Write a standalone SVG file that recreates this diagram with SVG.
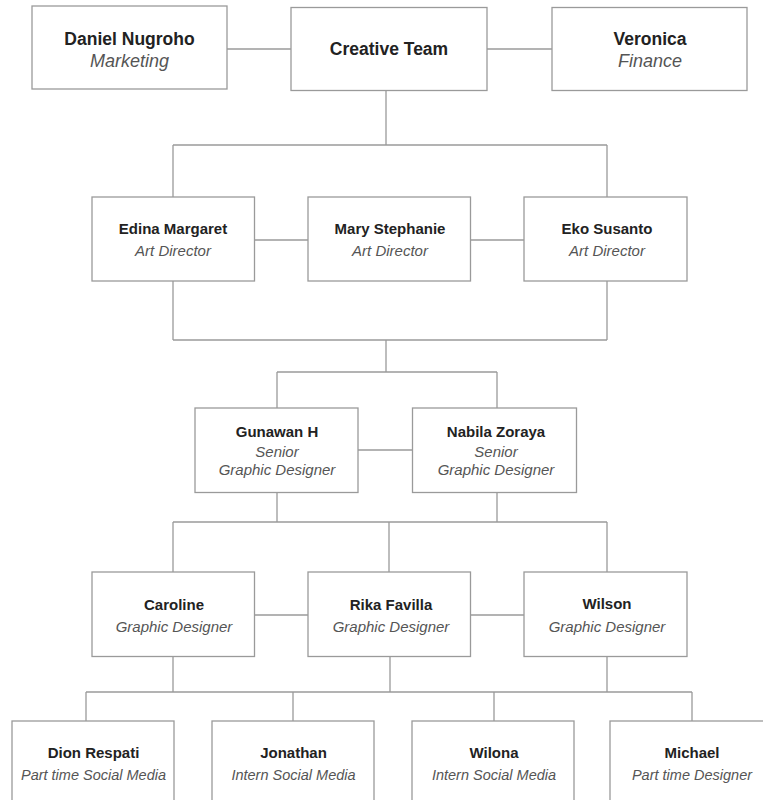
<svg xmlns="http://www.w3.org/2000/svg" width="763" height="800" viewBox="0 0 763 800">
<style>
.box{fill:#fff;stroke:#9a9a9a;stroke-width:1.3}
.ln{stroke:#9a9a9a;stroke-width:1.3;fill:none}
.n{font-family:"Liberation Sans",Arial,sans-serif;font-weight:bold;font-size:15px;fill:#222;text-anchor:middle}
.r{font-family:"Liberation Sans",Arial,sans-serif;font-style:italic;font-size:15px;fill:#555;text-anchor:middle}
.nt{font-size:17.5px}
.rt{font-size:18px}
.rb{font-size:14.5px}
</style>
<rect width="763" height="800" fill="#fff"/>
<g id="connectors">
<path class="ln" d="M227 49H291M487 49H552"/>
<path class="ln" d="M386 90V145M173 145H607M173 145V197M607 145V197"/>
<path class="ln" d="M254.5 240H308M470.5 240H524"/>
<path class="ln" d="M173 281V340M607 281V340M173 340H607M386 340V372M277 372H497M277 372V408M497 372V408"/>
<path class="ln" d="M358 450H412.5"/>
<path class="ln" d="M277 492V522M497 492V522M173 522H607M173 522V572M389 522V572M607 522V572"/>
<path class="ln" d="M254.5 615H308M470.5 615H524"/>
<path class="ln" d="M173 656.5V692M390 656.5V692M607 656.5V692M86 692H692M86 692V721M293 692V721M494 692V721M692 692V721"/>
</g>
<g id="daniel"><rect class="box" x="32" y="6" width="195" height="83"/><text class="n nt" x="129.5" y="45">Daniel Nugroho</text><text class="r rt" x="129.5" y="67">Marketing</text></g>
<g id="creative"><rect class="box" x="291" y="7.5" width="196" height="83"/><text class="n nt" x="389" y="55">Creative Team</text></g>
<g id="veronica"><rect class="box" x="552" y="7.5" width="195" height="83"/><text class="n nt" x="650" y="45">Veronica</text><text class="r rt" x="650" y="67">Finance</text></g>
<g id="edina"><rect class="box" x="92" y="197" width="162.5" height="84"/><text class="n" x="173" y="234">Edina Margaret</text><text class="r" x="173" y="256">Art Director</text></g>
<g id="mary"><rect class="box" x="308" y="197" width="162.5" height="84"/><text class="n" x="390" y="234">Mary Stephanie</text><text class="r" x="390" y="256">Art Director</text></g>
<g id="eko"><rect class="box" x="524" y="197" width="163" height="84"/><text class="n" x="607" y="234">Eko Susanto</text><text class="r" x="607" y="256">Art Director</text></g>
<g id="gunawan"><rect class="box" x="195" y="408" width="163" height="84.5"/><text class="n" x="277" y="437">Gunawan H</text><text class="r" x="277" y="457">Senior</text><text class="r" x="277" y="474.5">Graphic Designer</text></g>
<g id="nabila"><rect class="box" x="412.5" y="408" width="164" height="84.5"/><text class="n" x="496" y="437">Nabila Zoraya</text><text class="r" x="496" y="457">Senior</text><text class="r" x="496" y="474.5">Graphic Designer</text></g>
<g id="caroline"><rect class="box" x="92" y="572" width="162.5" height="84.5"/><text class="n" x="174" y="610">Caroline</text><text class="r" x="174" y="631.5">Graphic Designer</text></g>
<g id="rika"><rect class="box" x="308" y="572" width="162.5" height="84.5"/><text class="n" x="391" y="610">Rika Favilla</text><text class="r" x="391" y="631.5">Graphic Designer</text></g>
<g id="wilson"><rect class="box" x="524" y="572" width="163" height="84.5"/><text class="n" x="607" y="608.5">Wilson</text><text class="r" x="607" y="631.5">Graphic Designer</text></g>
<g id="dion"><rect class="box" x="12" y="721" width="162" height="84"/><text class="n" x="93.5" y="758">Dion Respati</text><text class="r rb" x="93.5" y="780">Part time Social Media</text></g>
<g id="jonathan"><rect class="box" x="212" y="721" width="162" height="84"/><text class="n" x="293.5" y="758">Jonathan</text><text class="r rb" x="293.5" y="780">Intern Social Media</text></g>
<g id="wilona"><rect class="box" x="412" y="721" width="162" height="84"/><text class="n" x="494" y="758">Wilona</text><text class="r rb" x="494" y="780">Intern Social Media</text></g>
<g id="michael"><rect class="box" x="610" y="721" width="163" height="84"/><text class="n" x="692" y="758">Michael</text><text class="r rb" x="692" y="780">Part time Designer</text></g>
</svg>
